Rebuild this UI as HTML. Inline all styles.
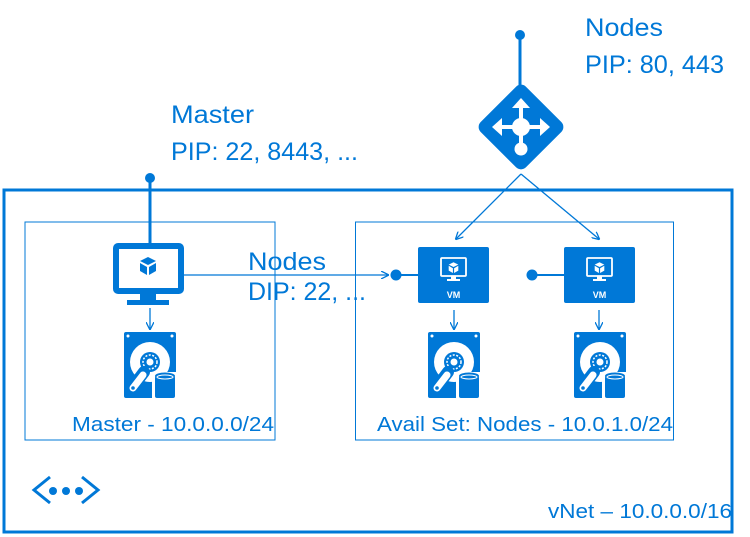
<!DOCTYPE html>
<html><head><meta charset="utf-8"><style>
body{margin:0;background:#fff;}
svg{display:block;font-family:"Liberation Sans",sans-serif;}
</style></head><body>
<svg width="750" height="537" viewBox="0 0 750 537" xmlns="http://www.w3.org/2000/svg">
<defs>
<marker id="ar" markerWidth="8" markerHeight="8" refX="7" refY="4" orient="auto" markerUnits="userSpaceOnUse">
<path d="M0,0 L8,4 L0,8" fill="none" stroke="#0078d7" stroke-width="1.3"/>
</marker>
<g id="cube">
<path d="M0,-8 L8,-4 L0,0 L-8,-4Z" fill="#0078d7"/>
<path d="M-8,-2 L-1,2 L-1,10 L-8,6Z" fill="#0078d7"/>
<path d="M8,-2 L1,2 L1,10 L8,6Z" fill="#0078d7"/>
</g>
<g id="disk">
<rect x="0" y="0" width="52" height="66" rx="2" fill="#0078d7"/>
<circle cx="4" cy="4" r="1.5" fill="#fff"/><circle cx="48" cy="4" r="1.5" fill="#fff"/>
<circle cx="26" cy="30" r="20" fill="#fff"/>
<circle cx="26" cy="30" r="10" fill="#0078d7"/>
<circle cx="26" cy="30" r="7" fill="none" stroke="#fff" stroke-width="1.5" stroke-dasharray="2 1.5"/>
<circle cx="26" cy="30" r="3.5" fill="#fff"/>
<path d="M20,40 L8,56" stroke="#0078d7" stroke-width="12" stroke-linecap="round"/>
<path d="M19,43 L9,56" stroke="#fff" stroke-width="7" stroke-linecap="round"/>
<circle cx="9" cy="56" r="1.8" fill="#0078d7"/>
<rect x="28" y="40" width="26" height="30" fill="#fff"/>
<rect x="31" y="44" width="20" height="22" rx="2" fill="#0078d7"/>
<ellipse cx="41" cy="44" rx="10" ry="3.5" fill="#0078d7"/>
<ellipse cx="41" cy="45" rx="8" ry="2" fill="none" stroke="#fff" stroke-width="1"/>
</g>
<g id="vm">
<rect x="0" y="0" width="71" height="56" rx="2" fill="#0078d7"/>
<rect x="23" y="11" width="25" height="18" rx="1" fill="none" stroke="#fff" stroke-width="1.8"/>
<rect x="33" y="29" width="5" height="3" fill="#fff"/>
<rect x="29" y="32" width="13" height="2" fill="#fff"/>
<g transform="translate(35.5,20) scale(0.6)"><path d="M0,-8 L8,-4 L0,0 L-8,-4Z" fill="#fff"/><path d="M-8,-2 L-1,2 L-1,10 L-8,6Z" fill="#fff"/><path d="M8,-2 L1,2 L1,10 L8,6Z" fill="#fff"/></g>
<text x="35.5" y="51" font-size="9" font-weight="bold" fill="#fff" text-anchor="middle">VM</text>
</g>
</defs>

<rect x="4" y="190" width="728" height="342" fill="none" stroke="#0078d7" stroke-width="3"/>
<rect x="25" y="222" width="250" height="218" fill="none" stroke="#0078d7" stroke-width="1"/>
<rect x="355.5" y="222" width="318" height="218" fill="none" stroke="#0078d7" stroke-width="1"/>

<circle cx="150" cy="178" r="5" fill="#0078d7"/>
<line x1="150" y1="178" x2="150" y2="244" stroke="#0078d7" stroke-width="3"/>
<rect x="116" y="246" width="65" height="45" rx="2" fill="none" stroke="#0078d7" stroke-width="6"/>
<rect x="140" y="293" width="16" height="8" fill="#0078d7"/>
<rect x="127" y="300" width="42" height="5" fill="#0078d7"/>
<use href="#cube" transform="translate(148,265)"/>
<line x1="183" y1="275" x2="388" y2="275" stroke="#0078d7" stroke-width="1.3" marker-end="url(#ar)"/>
<line x1="150" y1="308" x2="150" y2="329" stroke="#0078d7" stroke-width="1.3" marker-end="url(#ar)"/>
<use href="#disk" transform="translate(124,332)"/>

<circle cx="520" cy="35" r="5" fill="#0078d7"/>
<line x1="520" y1="35" x2="520" y2="86" stroke="#0078d7" stroke-width="3"/>
<rect x="489" y="95" width="64" height="64" rx="7" fill="#0078d7" transform="rotate(45 521 127)"/>
<circle cx="521" cy="127" r="9" fill="#fff"/>
<line x1="521" y1="127" x2="521" y2="146" stroke="#fff" stroke-width="4"/>
<circle cx="521" cy="149" r="6.5" fill="#fff"/>
<line x1="521" y1="127" x2="521" y2="106" stroke="#fff" stroke-width="4"/>
<path d="M512,108 L521,98 L530,108Z" fill="#fff"/>
<line x1="500" y1="127" x2="542" y2="127" stroke="#fff" stroke-width="4"/>
<path d="M502,118 L492,127 L502,136Z" fill="#fff"/>
<path d="M540,118 L550,127 L540,136Z" fill="#fff"/>
<line x1="521" y1="174" x2="456" y2="239" stroke="#0078d7" stroke-width="1.3" marker-end="url(#ar)"/>
<line x1="521" y1="174" x2="599" y2="239" stroke="#0078d7" stroke-width="1.3" marker-end="url(#ar)"/>

<circle cx="396" cy="275" r="5.5" fill="#0078d7"/>
<line x1="396" y1="275" x2="418" y2="275" stroke="#0078d7" stroke-width="2"/>
<use href="#vm" transform="translate(418,247)"/>
<circle cx="532" cy="275" r="5.5" fill="#0078d7"/>
<line x1="532" y1="275" x2="564" y2="275" stroke="#0078d7" stroke-width="2"/>
<use href="#vm" transform="translate(564,247)"/>
<line x1="454" y1="310" x2="454" y2="329" stroke="#0078d7" stroke-width="1.3" marker-end="url(#ar)"/>
<line x1="599" y1="310" x2="599" y2="329" stroke="#0078d7" stroke-width="1.3" marker-end="url(#ar)"/>
<use href="#disk" transform="translate(428,332)"/>
<use href="#disk" transform="translate(574,332)"/>

<path d="M50,477 L34,490 L50,503" fill="none" stroke="#0078d7" stroke-width="3"/>
<path d="M82,477 L98,490 L82,503" fill="none" stroke="#0078d7" stroke-width="3"/>
<circle cx="53" cy="491" r="4" fill="#0078d7"/><circle cx="66" cy="491" r="4" fill="#0078d7"/><circle cx="79" cy="491" r="4" fill="#0078d7"/>

<g fill="#0078d7">
<text x="171" y="123" font-size="25" textLength="83" lengthAdjust="spacingAndGlyphs">Master</text>
<text x="171" y="160" font-size="25" textLength="187" lengthAdjust="spacingAndGlyphs">PIP: 22, 8443, ...</text>
<text x="585" y="36" font-size="25" textLength="78" lengthAdjust="spacingAndGlyphs">Nodes</text>
<text x="585" y="73" font-size="25" textLength="139" lengthAdjust="spacingAndGlyphs">PIP: 80, 443</text>
<text x="248" y="270" font-size="25" textLength="78" lengthAdjust="spacingAndGlyphs">Nodes</text>
<text x="248" y="300" font-size="25" textLength="118" lengthAdjust="spacingAndGlyphs">DIP: 22, ...</text>
<text x="72" y="431" font-size="20" textLength="202" lengthAdjust="spacingAndGlyphs">Master - 10.0.0.0/24</text>
<text x="377" y="431" font-size="20" textLength="296" lengthAdjust="spacingAndGlyphs">Avail Set: Nodes - 10.0.1.0/24</text>
<text x="548" y="518" font-size="20" textLength="184" lengthAdjust="spacingAndGlyphs">vNet – 10.0.0.0/16</text>
</g>
</svg>
</body></html>
